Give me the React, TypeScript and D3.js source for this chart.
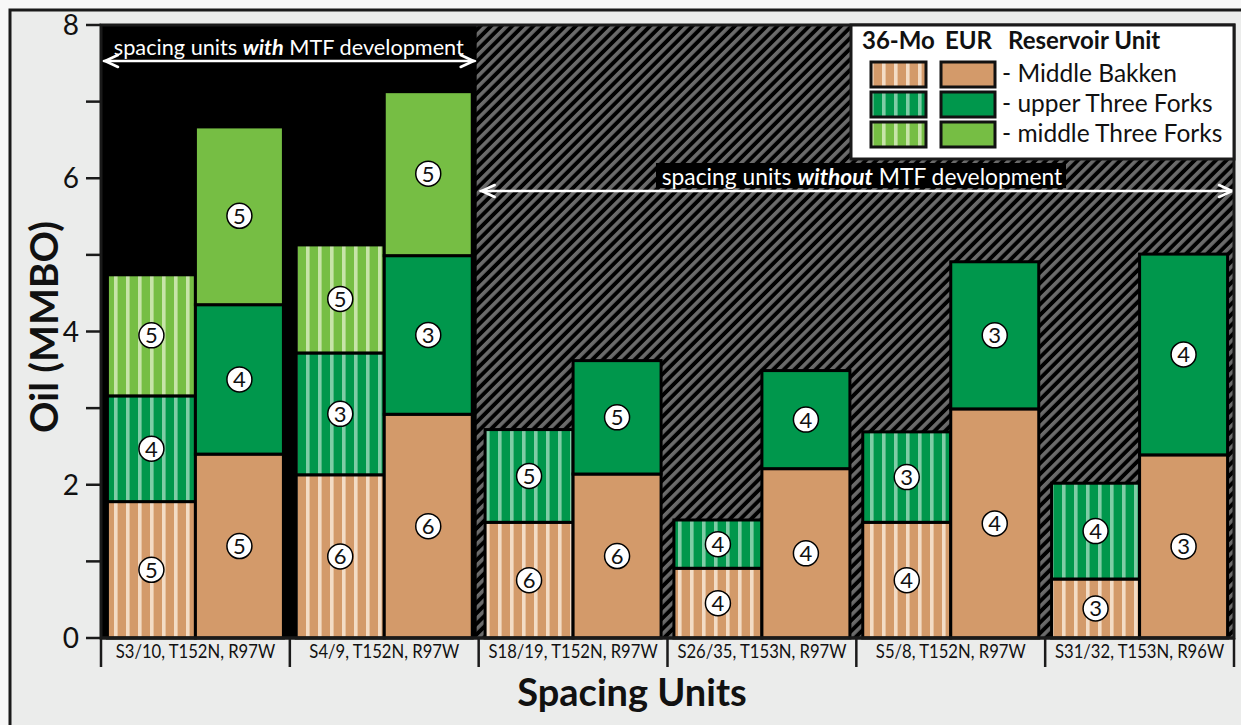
import React from "react";
import * as d3 from "d3";

const categories = [
  "S3/10, T152N, R97W",
  "S4/9, T152N, R97W",
  "S18/19, T152N, R97W",
  "S26/35, T153N, R97W",
  "S5/8, T152N, R97W",
  "S31/32, T153N, R96W",
];
const units = ["Middle Bakken", "upper Three Forks", "middle Three Forks"];
// 36-month cumulative (MMBO) per unit (stacked segments)
const mo36MB = [1.78, 2.13, 1.51, 0.91, 1.51, 0.77];
const mo36UTF = [1.38, 1.59, 1.21, 0.63, 1.18, 1.25];
const mo36MTF = [1.58, 1.41, 0, 0, 0, 0];
// EUR (MMBO)
const eurMB = [2.4, 2.92, 2.14, 2.21, 2.99, 2.39];
const eurUTF = [1.95, 2.07, 1.48, 1.28, 1.92, 2.62];
const eurMTF = [2.32, 2.14, 0, 0, 0, 0];
// well counts
const wellsMB = [5, 6, 6, 4, 4, 3];
const wellsUTF = [4, 3, 5, 4, 3, 4];
const wellsMTF = [5, 5, 0, 0, 0, 0];
const yTicks = [0, 2, 4, 6, 8];
const mtfGroups = 2;

const colors = ["#d39a6a", "#00974c", "#76be44"];
const stripeColors = ["#f3dcc6", "#7fcda6", "#c7e4a9"];

const FONT = "Lato, 'Open Sans', sans-serif";

export default function App() {
  const W = 1241, H = 725;
  const left = 101, right = 1234, top = 25, bottom = 638;
  const x = d3.scaleBand<string>().domain(categories).range([left, right]).paddingInner(0.068).paddingOuter(0.034);
  const sub = d3.scaleBand<string>().domain(["36", "eur"]).range([0, x.bandwidth()]).padding(0);
  const y = d3.scaleLinear().domain([0, 8]).range([bottom, top]);
  const step = x.step();
  const blackEnd = left + step * mtfGroups - 2;

  type Seg = { key: string; cat: string; kind: string; unit: number; y0: number; y1: number; n: number };
  const segs: Seg[] = [];
  categories.forEach((c, i) => {
    const s36 = [mo36MB[i], mo36UTF[i], mo36MTF[i]];
    const se = [eurMB[i], eurUTF[i], eurMTF[i]];
    const wn = [wellsMB[i], wellsUTF[i], wellsMTF[i]];
    let acc = 0;
    s36.forEach((v, u) => {
      if (v > 0) segs.push({ key: `a${i}${u}`, cat: c, kind: "36", unit: u, y0: acc, y1: acc + v, n: wn[u] });
      acc += v;
    });
    acc = 0;
    se.forEach((v, u) => {
      if (v > 0) segs.push({ key: `b${i}${u}`, cat: c, kind: "eur", unit: u, y0: acc, y1: acc + v, n: wn[u] });
      acc += v;
    });
  });

  const arrow = (x1: number, x2: number, yy: number) => (
    <g stroke="#fff" strokeWidth={2.6} fill="none" strokeLinecap="round">
      <line x1={x1} x2={x2} y1={yy} y2={yy} />
      <polyline points={`${x1 + 14},${yy - 6} ${x1 + 1},${yy} ${x1 + 14},${yy + 6}`} />
      <polyline points={`${x2 - 14},${yy - 6} ${x2 - 1},${yy} ${x2 - 14},${yy + 6}`} />
    </g>
  );

  return (
    <svg width={W} height={H} style={{ position: "absolute", left: 0, top: 0 }} fontFamily={FONT}>
      <defs>
        <pattern id="hatch" patternUnits="userSpaceOnUse" width={7.5} height={7.5} patternTransform="rotate(45)">
          <rect width={7.5} height={7.5} fill="#000" />
          <rect width={3.6} height={7.5} fill="#6b6b6b" />
        </pattern>
        {colors.map((c, i) => (
          <pattern key={i} id={`stripe${i}`} patternUnits="userSpaceOnUse" width={12} height={12}>
            <rect width={12} height={12} fill={c} />
            <rect x={6} width={3.6} height={12} fill={stripeColors[i]} />
          </pattern>
        ))}
      </defs>
      <rect x={0} y={0} width={W} height={H} fill="#f7f7f7" />
      <rect x={10} y={10} width={W + 20} height={H + 20} fill="#ebeceb" stroke="#1a1a1a" strokeWidth={3} />

      {/* plot background */}
      <rect x={left} y={top} width={right - left} height={bottom - top} fill="url(#hatch)" />
      <rect x={left} y={top} width={blackEnd - left} height={bottom - top} fill="#000" />

      {/* annotations */}
      <text x={(left + blackEnd) / 2} y={55} fill="#fff" fontSize={21.7} textAnchor="middle">
        spacing units <tspan fontWeight="bold" fontStyle="italic">with</tspan> MTF development
      </text>
      {arrow(left + 3, blackEnd - 2, 61)}
      <rect x={656} y={163} width={410} height={25} fill="#000" />
      <text x={862} y={185} fill="#fff" fontSize={22.8} textAnchor="middle">
        spacing units <tspan fontWeight="bold" fontStyle="italic">without</tspan> MTF development
      </text>
      {arrow(blackEnd + 4, right - 1, 191)}

      {/* bars */}
      {segs.map((s) => {
        const bx = (x(s.cat) as number) + (sub(s.kind) as number);
        return (
          <rect key={s.key} x={bx} y={y(s.y1)} width={sub.bandwidth()} height={y(s.y0) - y(s.y1)}
            fill={s.kind === "36" ? `url(#stripe${s.unit})` : colors[s.unit]} stroke="#000" strokeWidth={3} />
        );
      })}
      {segs.map((s) => {
        const cx = (x(s.cat) as number) + (sub(s.kind) as number) + sub.bandwidth() / 2;
        const cy = y((s.y0 + s.y1) / 2);
        return (
          <g key={"l" + s.key}>
            <circle cx={cx} cy={cy} r={12.5} fill="#fff" stroke="#000" strokeWidth={1.5} />
            <text x={cx} y={cy + 8} textAnchor="middle" fontSize={22} fill="#111">{s.n}</text>
          </g>
        );
      })}

      {/* plot border */}
      <rect x={left} y={top} width={right - left} height={bottom - top} fill="none" stroke="#1a1a1a" strokeWidth={3} />

      {/* legend */}
      <g>
        <rect x={851} y={25} width={right - 851} height={134} fill="#fff" stroke="#1a1a1a" strokeWidth={3} />
        <text y={49} fontSize={24} fontWeight="bold" fill="#111">
          <tspan x={862}>36-Mo</tspan>
          <tspan x={945}>EUR</tspan>
          <tspan x={1008}>Reservoir Unit</tspan>
        </text>
        {units.map((u, i) => {
          const ry = 62 + i * 30;
          return (
            <g key={u}>
              <rect x={871} y={ry} width={55} height={25} fill={`url(#stripe${i})`} stroke="#111" strokeWidth={3} />
              <rect x={941} y={ry} width={54} height={25} fill={colors[i]} stroke="#111" strokeWidth={3} />
              <text x={1002} y={ry + 20} fontSize={24.5} fill="#111">- {u}</text>
            </g>
          );
        })}
      </g>

      {/* y axis */}
      {yTicks.map((t) => (
        <g key={t}>
          <line x1={86} x2={left} y1={y(t)} y2={y(t)} stroke="#1a1a1a" strokeWidth={2.5} />
          <text x={79} y={y(t) + 10} textAnchor="end" fontSize={28} fill="#111">{t}</text>
        </g>
      ))}
      {d3.range(1, 8, 2).map((t) => (
        <line key={"m" + t} x1={86} x2={left} y1={y(t)} y2={y(t)} stroke="#1a1a1a" strokeWidth={2.5} />
      ))}

      {/* x axis */}
      <line x1={left} x2={right} y1={bottom} y2={bottom} stroke="#1a1a1a" strokeWidth={3} />
      {d3.range(categories.length + 1).map((i) => {
        const xx = left + i * step;
        return <line key={"t" + i} x1={xx} x2={xx} y1={bottom} y2={667} stroke="#1a1a1a" strokeWidth={2.5} />;
      })}
      {categories.map((c) => (
        <text key={c} transform={`translate(${(x(c) as number) + x.bandwidth() / 2},658) scale(0.9,1)`}
          textAnchor="middle" fontSize={18.5} fill="#111">{c}</text>
      ))}

      <text x={632} y={706} textAnchor="middle" fontSize={38} fontWeight="bold" fill="#111">Spacing Units</text>
      <text transform={`translate(58,327) rotate(-90)`} textAnchor="middle" fontSize={39} fontWeight="bold" fill="#111">Oil (MMBO)</text>
    </svg>
  );
}
